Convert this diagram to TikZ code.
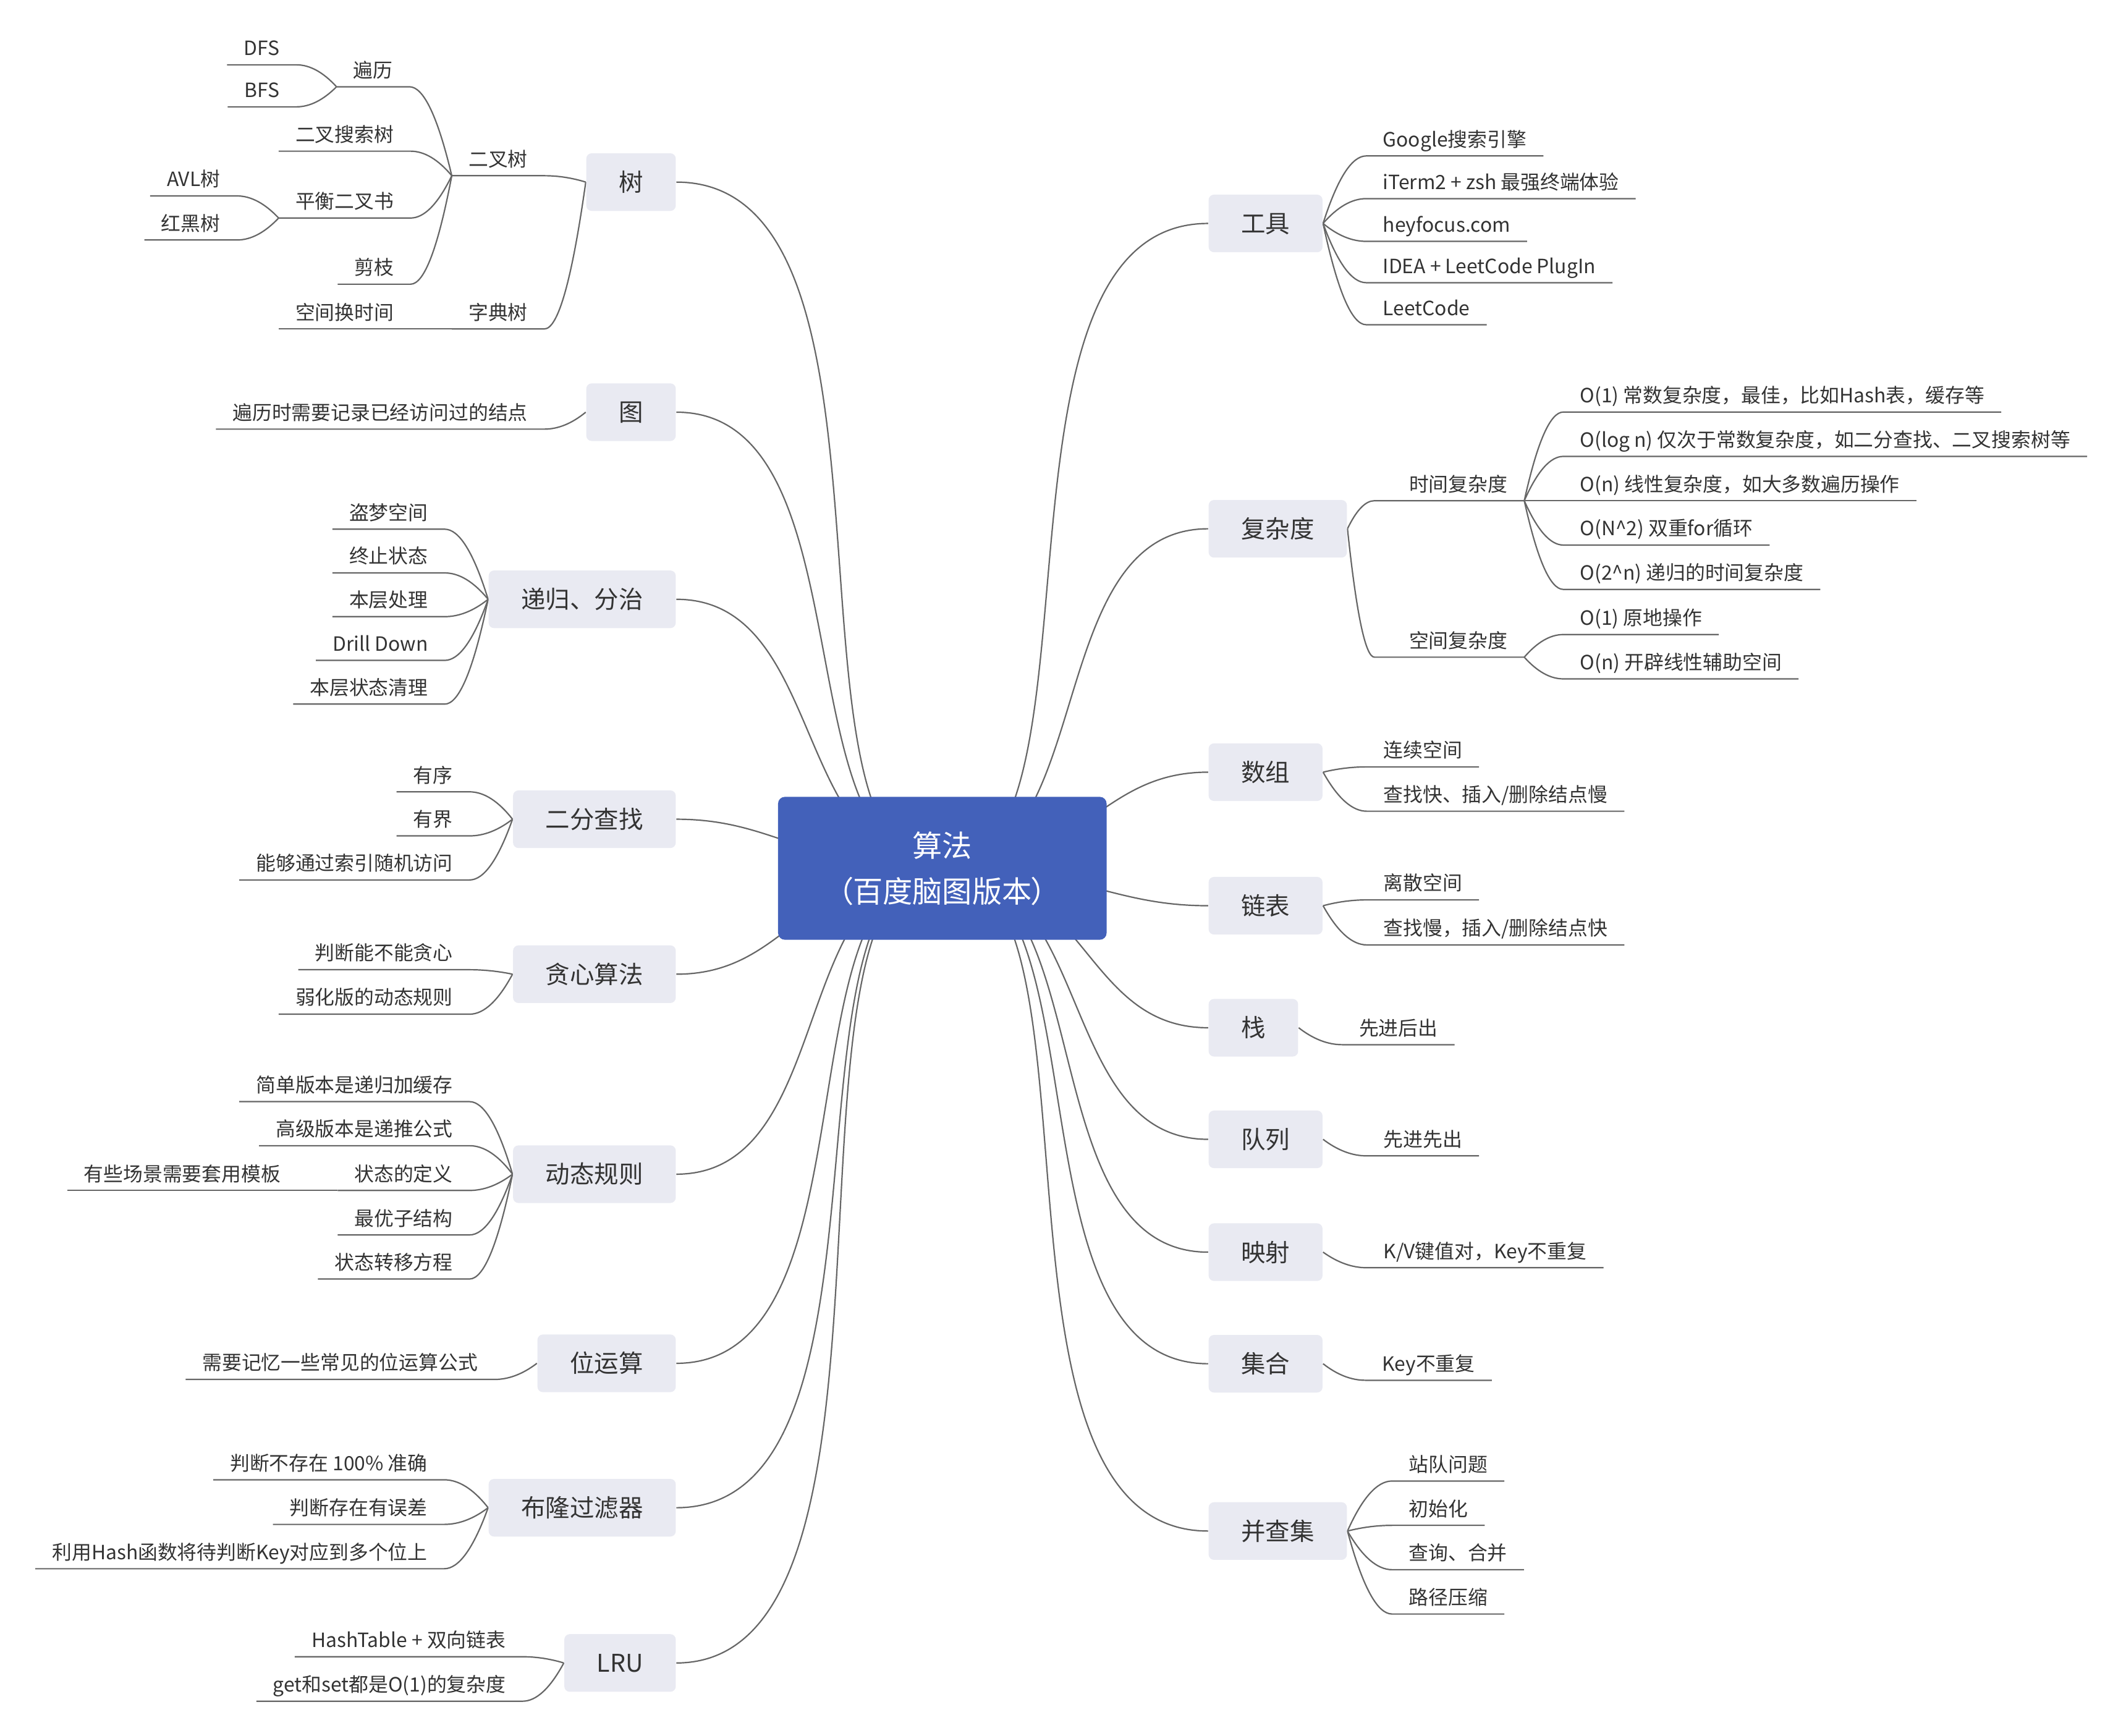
\documentclass[tikz,border=0pt]{standalone}
\usepackage{fontspec}
\setmainfont{Noto Sans CJK SC}
\newfontfamily\rootfont[RawFeature=+palt]{Noto Sans CJK SC}
\usetikzlibrary{calc,backgrounds}
\definecolor{boxfill}{RGB}{233,234,242}
\definecolor{rootblue}{RGB}{67,97,186}
\definecolor{txt}{RGB}{51,51,51}
\definecolor{ln}{RGB}{102,102,102}
\tikzset{
  link/.style={draw=ln, line width=0.5pt},
  topic/.style={fill=boxfill, rounded corners=2pt, text=txt, font=\fontsize{9pt}{10pt}\selectfont,
    inner xsep=12pt, inner ysep=0pt, minimum height=21.25pt, text height=7.92pt, text depth=1.08pt},
  sub/.style={text=txt, font=\fontsize{7.25pt}{8pt}\selectfont, inner xsep=6pt, inner ysep=2.375pt,
    text height=6.38pt, text depth=0.87pt},
  timesub/.style={sub, text width=42.85pt, align=right},
  rootnode/.style={fill=rootblue, rounded corners=2.5pt, text=white,
    font=\rootfont\fontsize{11pt}{16.85pt}\selectfont, align=center,
    minimum width=121.15pt, minimum height=52.7pt, inner sep=0pt}
}
\newcommand\mlink[4]{\draw[link] (root.center) .. controls +(#2,0) and +(#3,0) .. (#1.#4);}
\newcommand\rlink[2]{\draw[link] let \p1=(#1), \p2=(#2.south west), \n1={(\x2-\x1)/3}, \n2={2*(\y2-\y1)/3}, \n3={(\x1-\x2)/3} in
  (\p1) .. controls +(\n1,\n2) and +(\n3,0pt) .. (\p2) -- (#2.south east);}
\newcommand\llink[2]{\draw[link] let \p1=(#1), \p2=(#2.south east), \n1={(\x2-\x1)/3}, \n2={2*(\y2-\y1)/3}, \n3={(\x1-\x2)/3} in
  (\p1) .. controls +(\n1,\n2) and +(\n3,0pt) .. (\p2) -- (#2.south west);}
\begin{document}
\begin{tikzpicture}[x=0.5pt,y=-0.5pt]
\useasboundingbox (0,0) rectangle (1568,1280);
\node[rootnode] (root) at (695,640.4) {算法\\（百度脑图版本）};

% ---- left main topics
\node[topic,anchor=east] (tree)    at (498.8,134.3) {树};
\node[topic,anchor=east] (graph)   at (498.8,304)   {图};
\node[topic,anchor=east] (recur)   at (498.8,442)   {递归、分治};
\node[topic,anchor=east] (bsearch) at (498.8,604.2) {二分查找};
\node[topic,anchor=east] (greedy)  at (498.8,718.5) {贪心算法};
\node[topic,anchor=east] (dp)      at (498.8,866)   {动态规则};
\node[topic,anchor=east] (bit)     at (498.8,1005.5){位运算};
\node[topic,anchor=east] (bloom)   at (498.8,1112)  {布隆过滤器};
\node[topic,anchor=east] (lru)     at (498.8,1226.5){LRU};

% ---- right main topics
\node[topic,anchor=west] (tools) at (891,164.8)  {工具};
\node[topic,anchor=west] (cplx)  at (891,390)    {复杂度};
\node[topic,anchor=west] (arr)   at (891,569.5)  {数组};
\node[topic,anchor=west] (llist) at (891,668)    {链表};
\node[topic,anchor=west] (stk)   at (891,758)    {栈};
\node[topic,anchor=west] (que)   at (891,840.3)  {队列};
\node[topic,anchor=west] (mapn)  at (891,923.5)  {映射};
\node[topic,anchor=west] (setn)  at (891,1005.8) {集合};
\node[topic,anchor=west] (uf)    at (891,1129.2) {并查集};

% ---- tree subtopics
\node[sub,anchor=south east] (bt)    at (401.5,129.6) {二叉树};
\node[sub,anchor=south east] (trie)  at (401.5,242.6) {字典树};
\node[sub,anchor=south east] (trav)  at (302,64)      {遍历};
\node[sub,anchor=south east] (dfs)   at (218.6,47.8)  {DFS};
\node[sub,anchor=south east] (bfs)   at (218.6,78.8)  {BFS};
\node[sub,anchor=south east] (bst)   at (302.8,111.5) {二叉搜索树};
\node[sub,anchor=south east] (bal)   at (302.8,160.8) {平衡二叉书};
\node[sub,anchor=south east] (avl)   at (174.8,144.5) {AVL树};
\node[sub,anchor=south east] (rb)    at (174.8,177)   {红黑树};
\node[sub,anchor=south east] (prune) at (302.8,209.6) {剪枝};
\node[sub,anchor=south east] (spt)   at (302.8,242.6) {空间换时间};
% graph
\node[sub,anchor=south east] (gv) at (401.5,316.5) {遍历时需要记录已经访问过的结点};
% recursion
\node[sub,anchor=south east] (r1) at (328,390.3)  {盗梦空间};
\node[sub,anchor=south east] (r2) at (328,422.55) {终止状态};
\node[sub,anchor=south east] (r3) at (328,454.8)  {本层处理};
\node[sub,anchor=south east] (r4) at (328,487.05) {Drill Down};
\node[sub,anchor=south east] (r5) at (328,519.3)  {本层状态清理};
% binary search
\node[sub,anchor=south east] (b1) at (346.3,584)   {有序};
\node[sub,anchor=south east] (b2) at (346.3,616.5) {有界};
\node[sub,anchor=south east] (b3) at (346.3,649)   {能够通过索引随机访问};
% greedy
\node[sub,anchor=south east] (g1) at (346.3,715.2) {判断能不能贪心};
\node[sub,anchor=south east] (g2) at (346.3,748)   {弱化版的动态规则};
% dp
\node[sub,anchor=south east] (d1) at (346.3,812.5) {简单版本是递归加缓存};
\node[sub,anchor=south east] (d2) at (346.3,845)   {高级版本是递推公式};
\node[sub,anchor=south east] (d3) at (346.3,878)   {状态的定义};
\node[sub,anchor=south east] (d6) at (219.3,878)   {有些场景需要套用模板};
\node[sub,anchor=south east] (d4) at (346.3,910.8) {最优子结构};
\node[sub,anchor=south east] (d5) at (346.3,943.3) {状态转移方程};
% bit
\node[sub,anchor=south east] (bi1) at (364.7,1017.4) {需要记忆一些常见的位运算公式};
% bloom
\node[sub,anchor=south east] (bl1) at (327.6,1091.4) {判断不存在 100\% 准确};
\node[sub,anchor=south east] (bl2) at (327.6,1124.3) {判断存在有误差};
\node[sub,anchor=south east] (bl3) at (327.6,1157)   {利用Hash函数将待判断Key对应到多个位上};
% lru
\node[sub,anchor=south east] (lr1) at (385.4,1221.9) {HashTable + 双向链表};
\node[sub,anchor=south east] (lr2) at (385.4,1254.7) {get和set都是O(1)的复杂度};

% ---- right subtopics
\node[sub,anchor=south west] (t1) at (1007.6,115)   {Google搜索引擎};
\node[sub,anchor=south west] (t2) at (1007.6,146.5) {iTerm2 + zsh 最强终端体验};
\node[sub,anchor=south west] (t3) at (1007.6,178)   {heyfocus.com};
\node[sub,anchor=south west] (t4) at (1007.6,208.5) {IDEA + LeetCode PlugIn};
\node[sub,anchor=south west] (t5) at (1007.6,239.5) {LeetCode};
\node[timesub,anchor=south west] (tc) at (1013.7,369.3) {时间复杂度};
\node[timesub,anchor=south west] (sc) at (1013.7,484.7) {空间复杂度};
\node[sub,anchor=south west] (tc1) at (1153,303.9) {O(1) 常数复杂度，最佳，比如Hash表，缓存等};
\node[sub,anchor=south west] (tc2) at (1153,336.6) {O(log n) 仅次于常数复杂度，如二分查找、二叉搜索树等};
\node[sub,anchor=south west] (tc3) at (1153,369.3) {O(n) 线性复杂度，如大多数遍历操作};
\node[sub,anchor=south west] (tc4) at (1153,402)   {O(N\textasciicircum 2) 双重for循环};
\node[sub,anchor=south west] (tc5) at (1153,434.7) {O(2\textasciicircum n) 递归的时间复杂度};
\node[sub,anchor=south west] (sc1) at (1153,468)   {O(1) 原地操作};
\node[sub,anchor=south west] (sc2) at (1153,500.7) {O(n) 开辟线性辅助空间};
\node[sub,anchor=south west] (a1) at (1008,565.6) {连续空间};
\node[sub,anchor=south west] (a2) at (1008,598.3) {查找快、插入/删除结点慢};
\node[sub,anchor=south west] (ll1) at (1008,663.7) {离散空间};
\node[sub,anchor=south west] (ll2) at (1008,696.9) {查找慢，插入/删除结点快};
\node[sub,anchor=south west] (s1) at (990,770.5)  {先进后出};
\node[sub,anchor=south west] (q1) at (1008,852.5) {先进先出};
\node[sub,anchor=south west] (m1) at (1008,935)   {K/V键值对，Key不重复};
\node[sub,anchor=south west] (st1) at (1007,1018) {Key不重复};
\node[sub,anchor=south west] (u1) at (1026.7,1092.3) {站队问题};
\node[sub,anchor=south west] (u2) at (1026.7,1125)   {初始化};
\node[sub,anchor=south west] (u3) at (1026.7,1157.7) {查询、合并};
\node[sub,anchor=south west] (u4) at (1026.7,1190.4) {路径压缩};

\begin{pgfonlayer}{background}
\fill[white] (0,0) rectangle (1568,1280);
% root connectors
\mlink{tools}{128.5}{-176.7}{west}
\mlink{cplx}{115}{-123.6}{west}
\mlink{arr}{104.2}{-81.2}{west}
\mlink{llist}{101.7}{-71.2}{west}
\mlink{stk}{107.1}{-92.4}{west}
\mlink{que}{112}{-111.8}{west}
\mlink{mapn}{117}{-131.5}{west}
\mlink{setn}{122}{-151}{west}
\mlink{uf}{129.3}{-180}{west}
\mlink{tree}{-130.4}{184}{east}
\mlink{graph}{-120.2}{143.9}{east}
\mlink{recur}{-111.9}{111.3}{east}
\mlink{bsearch}{-102.2}{73.1}{east}
\mlink{greedy}{-104.7}{83.1}{east}
\mlink{dp}{-113.6}{117.9}{east}
\mlink{bit}{-121.9}{150.7}{east}
\mlink{bloom}{-128.3}{176}{east}
\mlink{lru}{-135.2}{190}{east}
% left sub connectors
\llink{tree.west}{bt}
\llink{tree.west}{trie}
\llink{bt.south west}{trav}
\llink{bt.south west}{bst}
\llink{bt.south west}{bal}
\llink{bt.south west}{prune}
\llink{trav.south west}{dfs}
\llink{trav.south west}{bfs}
\llink{bal.south west}{avl}
\llink{bal.south west}{rb}
\llink{trie.south west}{spt}
\llink{graph.west}{gv}
\llink{recur.west}{r1}
\llink{recur.west}{r2}
\llink{recur.west}{r3}
\llink{recur.west}{r4}
\llink{recur.west}{r5}
\llink{bsearch.west}{b1}
\llink{bsearch.west}{b2}
\llink{bsearch.west}{b3}
\llink{greedy.west}{g1}
\llink{greedy.west}{g2}
\llink{dp.west}{d1}
\llink{dp.west}{d2}
\llink{dp.west}{d3}
\llink{dp.west}{d4}
\llink{dp.west}{d5}
\llink{d3.south west}{d6}
\llink{bit.west}{bi1}
\llink{bloom.west}{bl1}
\llink{bloom.west}{bl2}
\llink{bloom.west}{bl3}
\llink{lru.west}{lr1}
\llink{lru.west}{lr2}
% right sub connectors
\rlink{tools.east}{t1}
\rlink{tools.east}{t2}
\rlink{tools.east}{t3}
\rlink{tools.east}{t4}
\rlink{tools.east}{t5}
\rlink{cplx.east}{tc}
\rlink{cplx.east}{sc}
\rlink{tc.south east}{tc1}
\rlink{tc.south east}{tc2}
\rlink{tc.south east}{tc3}
\rlink{tc.south east}{tc4}
\rlink{tc.south east}{tc5}
\rlink{sc.south east}{sc1}
\rlink{sc.south east}{sc2}
\rlink{arr.east}{a1}
\rlink{arr.east}{a2}
\rlink{llist.east}{ll1}
\rlink{llist.east}{ll2}
\rlink{stk.east}{s1}
\rlink{que.east}{q1}
\rlink{mapn.east}{m1}
\rlink{setn.east}{st1}
\rlink{uf.east}{u1}
\rlink{uf.east}{u2}
\rlink{uf.east}{u3}
\rlink{uf.east}{u4}
\end{pgfonlayer}
\end{tikzpicture}
\end{document}
